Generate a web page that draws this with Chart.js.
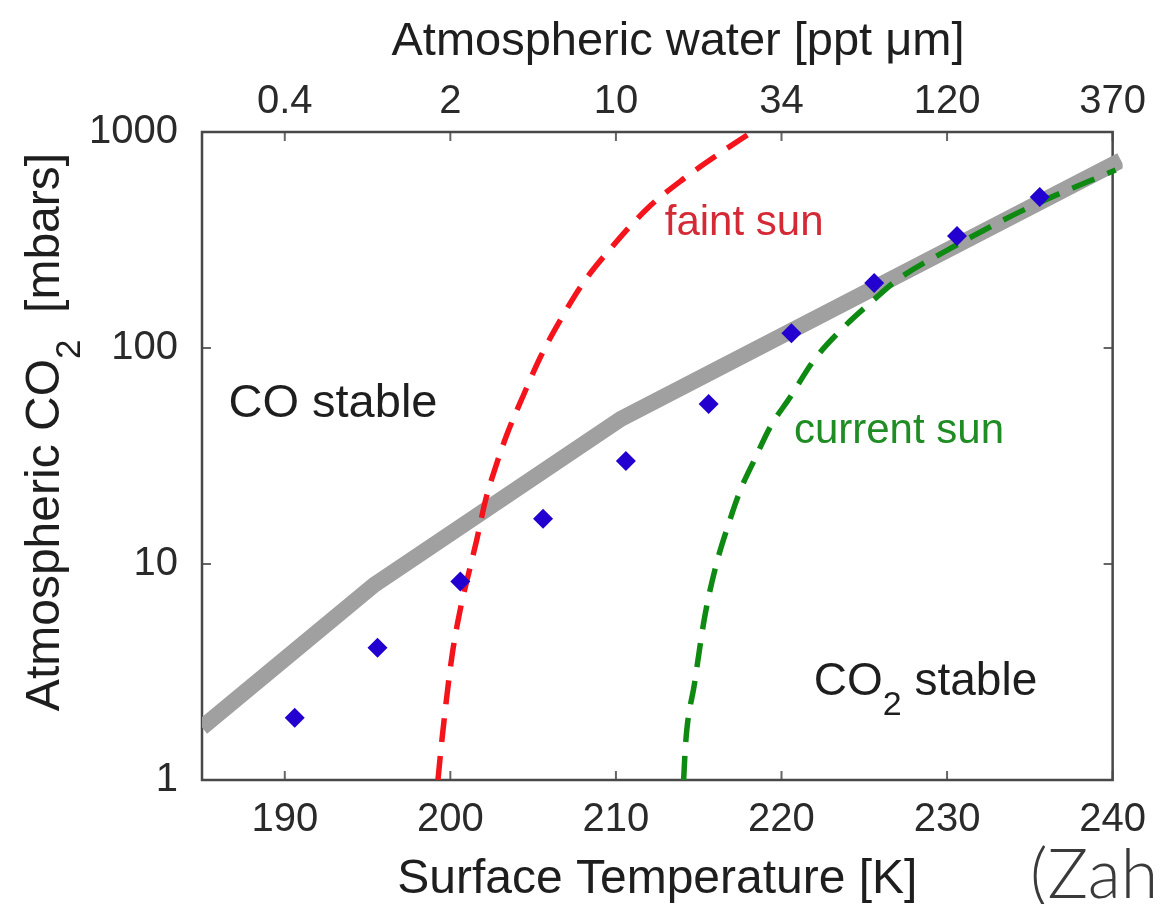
<!DOCTYPE html>
<html>
<head>
<meta charset="utf-8">
<script src="https://cdn.jsdelivr.net/npm/chart.js@4.4.1/dist/chart.umd.min.js"></script>
<style>
  html, body { margin: 0; padding: 0; background: #fff; }
  #wrap { width: 1162px; height: 904px; }
</style>
</head>
<body>
<div id="wrap"><canvas id="chart" width="1162" height="904"></canvas></div>
<script>
// axis ticks
const tempTicks   = [190, 200, 210, 220, 230, 240];
const waterLabels = ['0.4', '2', '10', '34', '120', '370'];
const co2Ticks    = [1, 10, 100, 1000];

// grey CO / CO2 boundary
const boundaryT   = [185, 195.4, 210.3, 240.5];
const boundaryCO2 = [1.75, 8, 47, 740];

// blue diamonds
const modelT   = [190.6, 195.6, 200.6, 205.6, 210.6, 215.6, 220.6, 225.6, 230.6, 235.6];
const modelCO2 = [1.94, 4.1, 8.3, 16.2, 30, 55, 117, 200, 330, 500];

// faint sun (red dashed)
const faintT   = [199.25, 199.49, 200.09, 200.63, 201.11, 201.59, 202.13, 202.73, 203.45, 204.42,
                  205.44, 206.58, 208.02, 209.77, 211.93, 214.15, 216.38, 218.12];
const faintCO2 = [1.0, 1.53, 3.71, 6.32, 9.08, 12.9, 19.8, 28.1, 40.4, 60.6,
                  90.8, 132, 200, 294, 445, 612, 808, 990];

// current sun (green dashed)
const currentT   = [214.09, 214.21, 214.75, 215.36, 216.02, 216.74, 217.52, 218.36, 219.32, 220.53,
                    221.97, 223.77, 225.57, 226.96, 230.02, 235.01, 240.18];
const currentCO2 = [1.0, 1.48, 2.81, 5.68, 9.68, 14.8, 22.0, 30.3, 43.1, 59.3,
                    88, 125, 167, 206, 284, 450, 667];

const FONT = "'Liberation Sans', Arial, Helvetica, sans-serif";
const zip = (xs, ys) => xs.map((x, i) => ({ x, y: ys[i] }));

// text labels placed in data coordinates (left / baseline)
const notes = [
  { text: 'faint sun',   t: 212.95, v: 334,  color: '#d42a36', size: 42 },
  { text: 'current sun', t: 220.75, v: 36.3, color: '#1f8c24', size: 42 },
  { text: 'CO stable',   t: 186.6,  v: 48,   color: '#1e1e1e', size: 47 },
];

function drawPieces(ctx, pieces, x, y) {
  let cx = x;
  pieces.forEach(p => {
    ctx.font = `${p.size}px ${FONT}`;
    ctx.fillText(p.text, cx, y + (p.dy || 0));
    cx += ctx.measureText(p.text).width;
  });
  return cx - x;
}

function piecesWidth(ctx, pieces) {
  return pieces.reduce((w, p) => {
    ctx.font = `${p.size}px ${FONT}`;
    return w + ctx.measureText(p.text).width;
  }, 0);
}

const framePlugin = {
  id: 'frame',
  beforeDatasetsDraw(chart) {
    const { ctx, chartArea: a, scales } = chart;
    ctx.save();
    ctx.strokeStyle = '#666';
    ctx.lineWidth = 2;
    ctx.beginPath();
    tempTicks.forEach(t => {
      const x = scales.x.getPixelForValue(t);
      ctx.moveTo(x, a.bottom); ctx.lineTo(x, a.bottom - 9);
      ctx.moveTo(x, a.top);    ctx.lineTo(x, a.top + 9);
    });
    co2Ticks.forEach(v => {
      const y = scales.y.getPixelForValue(v);
      ctx.moveTo(a.left, y);  ctx.lineTo(a.left + 9, y);
      ctx.moveTo(a.right, y); ctx.lineTo(a.right - 9, y);
    });
    ctx.stroke();
    ctx.strokeStyle = '#484848';
    ctx.lineWidth = 2.5;
    ctx.strokeRect(a.left, a.top, a.right - a.left, a.bottom - a.top);
    ctx.restore();
  },
};

const textPlugin = {
  id: 'texts',
  afterDraw(chart) {
    const { ctx, scales } = chart;
    ctx.save();
    ctx.textBaseline = 'alphabetic';
    ctx.textAlign = 'left';

    notes.forEach(n => {
      ctx.fillStyle = n.color;
      ctx.font = `${n.size}px ${FONT}`;
      ctx.fillText(n.text, scales.x.getPixelForValue(n.t), scales.y.getPixelForValue(n.v));
    });

    // CO2 stable with subscript
    ctx.fillStyle = '#1e1e1e';
    drawPieces(ctx, [
      { text: 'CO', size: 46 },
      { text: '2', size: 34, dy: 20 },
      { text: ' stable', size: 46 },
    ], scales.x.getPixelForValue(221.95), scales.y.getPixelForValue(2.47));

    // top title, a little right of centre as in the original
    ctx.font = `47px ${FONT}`;
    ctx.textAlign = 'center';
    ctx.fillText('Atmospheric water [ppt \u03bcm]', 678, 55);
    ctx.textAlign = 'left';

    // rotated y title
    const yPieces = [
      { text: 'Atmospheric CO', size: 48 },
      { text: '2', size: 35, dy: 21 },
      { text: '  [mbars]', size: 48 },
    ];
    ctx.save();
    ctx.translate(59, 432);
    ctx.rotate(-Math.PI / 2);
    drawPieces(ctx, yPieces, -piecesWidth(ctx, yPieces) / 2, 0);
    ctx.restore();

    // citation, cut at the right edge
    ctx.fillStyle = '#3a3a3a';
    ctx.font = "300 68px Lato, 'Open Sans', sans-serif";
    ctx.fillText('(Zah', 1030, 898);
    ctx.restore();
  },
};

const fixedTicks = list => scale => { scale.ticks = list.map(v => ({ value: v })); };

new Chart(document.getElementById('chart'), {
  type: 'line',
  data: {
    datasets: [
      {
        label: 'model',
        type: 'scatter',
        data: zip(modelT, modelCO2),
        pointStyle: 'rectRot',
        pointRadius: 10,
        borderWidth: 0,
        backgroundColor: '#2300cf',
        showLine: false,
        order: 0,
      },
      {
        label: 'faint sun',
        data: zip(faintT, faintCO2),
        borderColor: '#f5141c',
        borderWidth: 5.5,
        borderDash: [24, 14],
        pointRadius: 0,
        cubicInterpolationMode: 'monotone',
        fill: false,
        order: 1,
      },
      {
        label: 'current sun',
        data: zip(currentT, currentCO2),
        borderColor: '#0e8a12',
        borderWidth: 5.5,
        borderDash: [24, 14],
        pointRadius: 0,
        cubicInterpolationMode: 'monotone',
        fill: false,
        clip: { left: 0, top: 0, right: 10, bottom: 0 },
        order: 1,
      },
      {
        label: 'boundary',
        data: zip(boundaryT, boundaryCO2),
        borderColor: '#a0a0a0',
        borderWidth: 16,
        borderCapStyle: 'butt',
        borderJoinStyle: 'miter',
        pointRadius: 0,
        tension: 0,
        fill: false,
        clip: { left: 0, top: 10, right: 10, bottom: 0 },
        order: 3,
      },
    ],
  },
  options: {
    responsive: false,
    animation: false,
    devicePixelRatio: 1,
    layout: { padding: { left: 0, right: 45, top: 0, bottom: 0 } },
    plugins: {
      legend: { display: false },
      tooltip: { enabled: false },
    },
    scales: {
      x: {
        type: 'linear',
        position: 'bottom',
        min: 185,
        max: 240,
        afterBuildTicks: fixedTicks(tempTicks),
        afterFit: s => { s.height = 124; },
        grid: { display: false, drawTicks: false },
        border: { display: false },
        ticks: {
          color: '#2a2a2a',
          padding: 16,
          font: { family: FONT, size: 40, lineHeight: 1.2 },
          callback: v => String(v),
        },
        title: {
          display: true,
          text: 'Surface Temperature [K]',
          color: '#1e1e1e',
          font: { family: FONT, size: 48, lineHeight: 1 },
          padding: { top: 0, bottom: 0 },
        },
      },
      x2: {
        type: 'linear',
        position: 'top',
        min: 185,
        max: 240,
        afterBuildTicks: fixedTicks(tempTicks),
        afterFit: s => { s.height = 132; },
        grid: { display: false, drawTicks: false },
        border: { display: false },
        ticks: {
          color: '#2a2a2a',
          padding: 6,
          font: { family: FONT, size: 40, lineHeight: 1.2 },
          callback: (v, i) => waterLabels[i],
        },
      },
      y: {
        type: 'logarithmic',
        position: 'left',
        min: 1,
        max: 1000,
        afterBuildTicks: fixedTicks(co2Ticks),
        afterFit: s => { s.width = 202; },
        grid: { display: false, drawTicks: false },
        border: { display: false },
        ticks: {
          color: '#2a2a2a',
          padding: 24,
          autoSkip: false,
          font: { family: FONT, size: 40, lineHeight: 1.2 },
          callback: v => String(v),
        },
      },
    },
  },
  plugins: [framePlugin, textPlugin],
});
</script>
</body>
</html>
